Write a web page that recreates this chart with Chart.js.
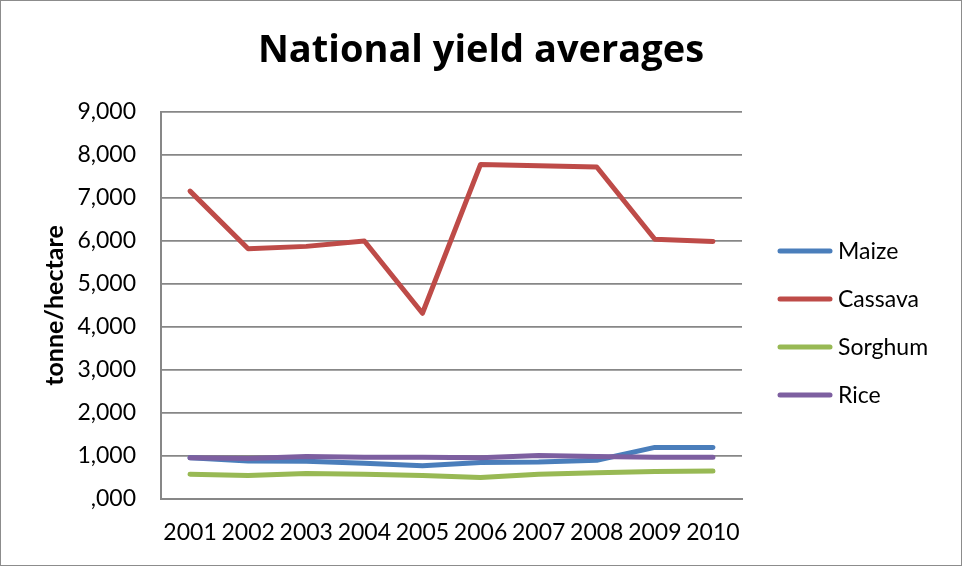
<!DOCTYPE html>
<html>
<head>
<meta charset="utf-8">
<script src="https://cdn.jsdelivr.net/npm/chart.js@4/dist/chart.umd.min.js"></script>
<style>
    body { margin: 0; background: #fff; }
    .chart-frame {
        width: 960px;
        height: 564px;
        border: 1px solid #8c8c8c;
        background: #fff;
    }
    canvas { display: block; }
</style>
</head>
<body>
<div class="chart-frame">
    <canvas id="yield-chart" width="960" height="564"></canvas>
</div>
<script>
var years = ["2001", "2002", "2003", "2004", "2005", "2006", "2007", "2008", "2009", "2010"];

var maize   = [960, 885, 880, 830, 775, 850, 860, 900, 1200, 1195];
var cassava = [7160, 5820, 5875, 6000, 4320, 7780, 7750, 7720, 6040, 5990];
var sorghum = [578, 548, 595, 578, 548, 500, 578, 609, 640, 649];
var rice    = [960, 940, 990, 970, 970, 960, 1010, 990, 970, 970];

var chartTitle = "National yield averages";
var axisTitle = "tonne/hectare";

var gridGray = "#878787";
var labelFont = "Lato";

// title on top and legend down the right side, drawn by hand so the
// title stays centred on the whole frame
var frameText = {
    id: "frameText",
    afterDraw(chart) {
        let ctx = chart.ctx;
        let area = chart.chartArea;

        ctx.save();
        ctx.fillStyle = "#000";
        ctx.font = "bold 38px 'Open Sans'";
        ctx.textAlign = "center";
        ctx.textBaseline = "alphabetic";
        ctx.fillText(chartTitle, chart.width / 2, 61);

        let x0 = area.right + 38;
        let x1 = area.right + 88;
        let y = area.top + 139;
        ctx.font = "23px " + labelFont;
        ctx.textAlign = "left";
        ctx.textBaseline = "middle";
        ctx.lineCap = "round";
        chart.data.datasets.forEach(function (ds) {
            ctx.strokeStyle = ds.borderColor;
            ctx.lineWidth = 5;
            ctx.beginPath();
            ctx.moveTo(x0, y);
            ctx.lineTo(x1, y);
            ctx.stroke();
            ctx.fillStyle = "#000";
            ctx.fillText(ds.label, x1 + 8, y + 1);
            y += 48;
        });
        ctx.restore();
    }
};

function series(label, data, color, order) {
    return {
        label: label,
        data: data,
        borderColor: color,
        backgroundColor: color,
        borderWidth: 5,
        borderCapStyle: "round",
        borderJoinStyle: "round",
        pointRadius: 0,
        tension: 0,
        order: order
    };
}

let chartData = {
    labels: years,
    datasets: [
        series("Maize", maize, "#4a7ebb", 3),
        series("Cassava", cassava, "#be4b48", 2),
        series("Sorghum", sorghum, "#98b954", 1),
        series("Rice", rice, "#7d5fa0", 0)
    ]
};

let chartOptions = {
    responsive: false,
    animation: false,
    layout: {
        padding: { left: 0, right: 219, top: 111, bottom: 0 }
    },
    plugins: {
        legend: { display: false },
        title: { display: false },
        tooltip: { enabled: false }
    },
    scales: {
        x: {
            offset: true,
            afterFit(scale) {
                scale.height = 66;
            },
            grid: { display: false, drawTicks: false },
            border: { display: true, color: gridGray, width: 2 },
            ticks: {
                color: "#000",
                padding: 20,
                maxRotation: 0,
                autoSkip: false,
                font: { family: labelFont, size: 23 }
            }
        },
        y: {
            min: 0,
            max: 9000,
            afterFit(scale) {
                scale.width = 160;
            },
            grid: {
                color: gridGray,
                lineWidth: 1.7,
                drawTicks: false
            },
            border: { display: true, color: gridGray, width: 2 },
            ticks: {
                stepSize: 1000,
                color: "#000",
                padding: 25,
                font: { family: labelFont, size: 23 },
                callback: function (value) {
                    if (value === 0) return ",000";
                    return value.toLocaleString("en-US");
                }
            },
            title: {
                display: true,
                text: axisTitle,
                color: "#000",
                padding: { top: 39, bottom: 0 },
                font: { family: labelFont, size: 25, weight: "bold" }
            }
        }
    }
};

let ctx = document.getElementById("yield-chart").getContext("2d");
new Chart(ctx, {
    type: "line",
    data: chartData,
    options: chartOptions,
    plugins: [frameText]
});
</script>
</body>
</html>
